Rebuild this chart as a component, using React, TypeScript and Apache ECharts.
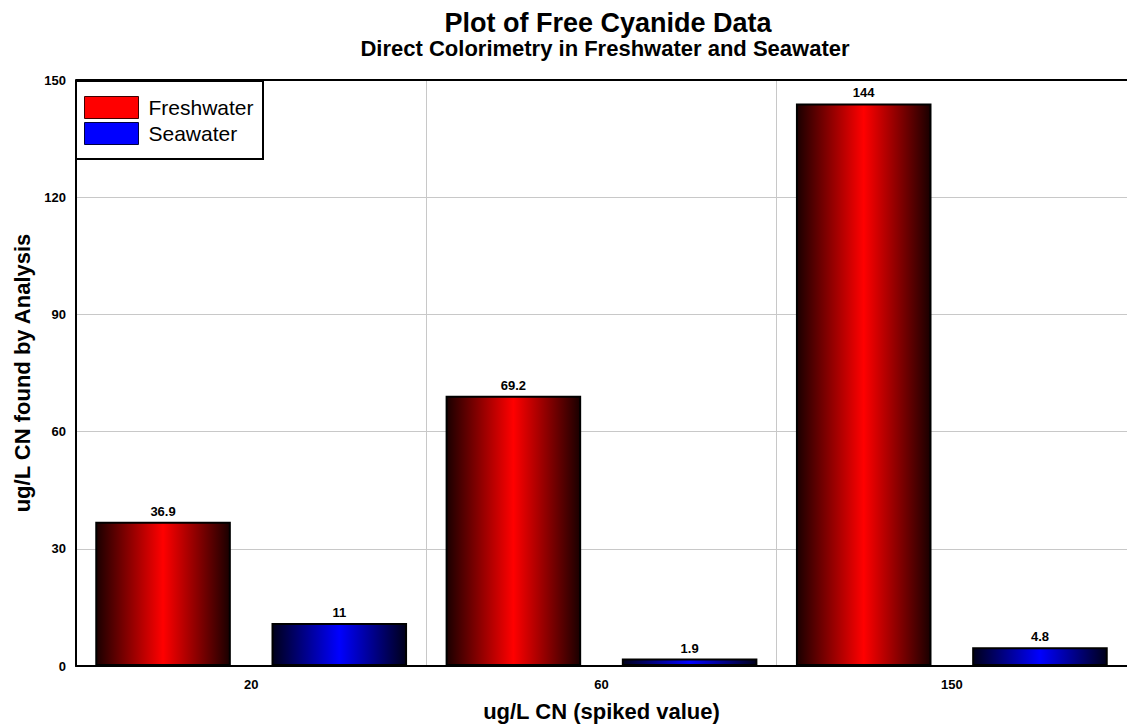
import React, { useEffect, useRef } from "react";
import * as echarts from "echarts";

const categories = ["20", "60", "150"];
const freshwater = [36.9, 69.2, 144];
const seawater = [11, 1.9, 4.8];
const yTicks = [0, 30, 60, 90, 120, 150];

const narrow = "'Liberation Sans Narrow', 'Arial Narrow', 'Liberation Sans', Arial, sans-serif";
const sans = "'Liberation Sans', Arial, sans-serif";

function grad(edge: string, mid: string) {
  return new echarts.graphic.LinearGradient(0, 0, 1, 0, [
    { offset: 0, color: edge },
    { offset: 0.5, color: mid },
    { offset: 1, color: edge },
  ]);
}

export default function App() {
  const ref = useRef<HTMLDivElement>(null);
  useEffect(() => {
    if (!ref.current) return;
    const chart = echarts.init(ref.current, undefined, { renderer: "svg" });
    const label = {
      show: true,
      position: "top" as const,
      distance: 4,
      color: "#000",
      fontFamily: narrow,
      fontWeight: "bold" as const,
      fontSize: 13,
    };
    chart.setOption({
      animation: false,
      backgroundColor: "#fff",
      title: [
        {
          text: "Plot of Free Cyanide Data",
          left: 603,
          top: 4,
          textAlign: "center",
          textStyle: { fontFamily: sans, fontWeight: "bold", fontSize: 27, color: "#000" },
        },
        {
          text: "Direct Colorimetry in Freshwater and Seawater",
          left: 600,
          top: 32,
          textAlign: "center",
          textStyle: { fontFamily: sans, fontWeight: "bold", fontSize: 22, color: "#000" },
        },
      ],
      grid: { left: 76, top: 80, width: 1058, height: 592, containLabel: false },
      graphic: [
        {
          type: "rect",
          left: 75,
          top: 80,
          shape: { width: 187, height: 78 },
          style: { fill: "#fff", stroke: "#000", lineWidth: 2 },
          z: 50,
        },
      ],
      legend: {
        left: 84,
        top: 96,
        orient: "vertical",
        itemWidth: 54,
        itemHeight: 22,
        itemGap: 3,
        padding: 0,
        z: 60,
        selectedMode: false,
        textStyle: { fontFamily: sans, fontSize: 21, color: "#000", padding: [0, 0, 0, 5] },
        data: [
          { name: "Freshwater", icon: "rect", itemStyle: { color: "#ff0000", borderColor: "#400000", borderWidth: 1 } },
          { name: "Seawater", icon: "rect", itemStyle: { color: "#0000ff", borderColor: "#000040", borderWidth: 1 } },
        ],
      },
      xAxis: {
        type: "category",
        data: categories,
        name: "ug/L CN (spiked value)",
        nameLocation: "middle",
        nameGap: 34,
        nameTextStyle: { fontFamily: sans, fontWeight: "bold", fontSize: 22, color: "#000" },
        axisLine: { show: true, lineStyle: { color: "#000", width: 2 } },
        axisTick: { show: false },
        axisLabel: { fontFamily: narrow, fontWeight: "bold", fontSize: 13, color: "#000", margin: 12 },
        splitLine: { show: true, lineStyle: { color: "#c8c8c8", width: 1 } },
      },
      yAxis: [
        {
          type: "value",
          min: 0,
          max: 150,
          interval: 30,
          name: "ug/L CN found by Analysis",
          nameLocation: "middle",
          nameGap: 43,
          nameTextStyle: { fontFamily: sans, fontWeight: "bold", fontSize: 22, color: "#000" },
          axisLine: { show: true, lineStyle: { color: "#000", width: 2 } },
          axisTick: { show: false },
          axisLabel: {
            fontFamily: narrow,
            fontWeight: "bold",
            fontSize: 13,
            color: "#000",
            margin: 10,
            formatter: (v: number) => (yTicks.includes(v) ? String(v) : ""),
          },
          splitLine: { show: true, lineStyle: { color: "#c8c8c8", width: 1 } },
        },
      ],
      series: [
        {
          name: "Freshwater",
          type: "bar",
          data: freshwater,
          barGap: "30%",
          barCategoryGap: "11%",
          itemStyle: { color: grad("#1a0000", "#ff0000"), borderColor: "#000", borderWidth: 2 },
          label,
        },
        {
          name: "Seawater",
          type: "bar",
          data: seawater,
          barGap: "30%",
          barCategoryGap: "11%",
          itemStyle: { color: grad("#00001a", "#0000ff"), borderColor: "#000", borderWidth: 2 },
          label,
        },
        {
          type: "line",
          data: [],
          silent: true,
          markLine: {
            silent: true,
            symbol: "none",
            label: { show: false },
            lineStyle: { color: "#000", width: 2, type: "solid" },
            data: [{ yAxis: 150 }],
          },
        },
      ],
    });
    return () => chart.dispose();
  }, []);
  return (
    <div
      ref={ref}
      style={{ position: "fixed", left: 0, top: 0, width: 1127, height: 727 }}
    />
  );
}
